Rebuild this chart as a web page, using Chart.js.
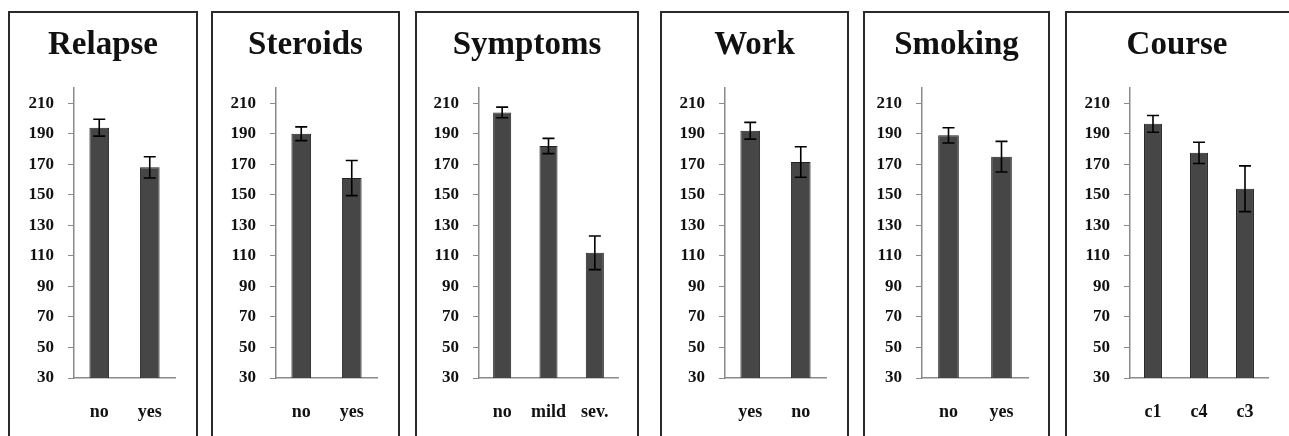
<!DOCTYPE html>
<html>
<head>
<meta charset="utf-8">
<script src="https://cdn.jsdelivr.net/npm/chart.js@4/dist/chart.umd.min.js"></script>
<style>
  html, body { margin: 0; padding: 0; background: #fff; width: 1289px; height: 436px; overflow: hidden; position: relative; }
  .frame { position: absolute; top: 11px; height: 460px; border: 2px solid #2a2a2a; box-sizing: border-box; pointer-events: none; }
  .title { position: absolute; top: 25px; height: 40px; line-height: 40px; text-align: center;
           font: bold 33px "Liberation Serif", "Times New Roman", serif; color: #111; }
  canvas { position: absolute; top: 11px; }
</style>
</head>
<body>
<script>
// chart titles and categories
let titles = ['Relapse', 'Steroids', 'Symptoms', 'Work', 'Smoking', 'Course'];

let relapseLabels = ['no', 'yes'];
let relapseMeans = [194, 168];
let relapseErrors = [5.5, 7];

let steroidsLabels = ['no', 'yes'];
let steroidsMeans = [190, 161];
let steroidsErrors = [4.5, 11.5];

let symptomsLabels = ['no', 'mild', 'sev.'];
let symptomsMeans = [204, 182, 112];
let symptomsErrors = [3.5, 5, 11];

let workLabels = ['yes', 'no'];
let workMeans = [192, 171.5];
let workErrors = [5.5, 10];

let smokingLabels = ['no', 'yes'];
let smokingMeans = [189, 175];
let smokingErrors = [5, 10];

let courseLabels = ['c1', 'c4', 'c3'];
let courseMeans = [196.5, 177.5, 154];
let courseErrors = [5.5, 7, 15];

let yTicks = [30, 50, 70, 90, 110, 130, 150, 170, 190, 210];

const panelData = [
    [relapseLabels, relapseMeans, relapseErrors],
    [steroidsLabels, steroidsMeans, steroidsErrors],
    [symptomsLabels, symptomsMeans, symptomsErrors],
    [workLabels, workMeans, workErrors],
    [smokingLabels, smokingMeans, smokingErrors],
    [courseLabels, courseMeans, courseErrors]
];

// page layout of each panel: frame edges, y axis x, end of x axis
const frames = [
    { left: 8,    right: 198,  axis: 74,   end: 175 },
    { left: 211,  right: 400,  axis: 276,  end: 377 },
    { left: 415,  right: 639,  axis: 479,  end: 618 },
    { left: 660,  right: 849,  axis: 725,  end: 826 },
    { left: 863,  right: 1050, axis: 922,  end: 1028 },
    { left: 1065, right: 1300, axis: 1130, end: 1268 }
];

const canvasHeight = 425;
const plotTop = 77;
const plotBottom = 367;
const serif = '"Liberation Serif", "Times New Roman", serif';

// error bars drawn through the chart's own scales
const errorBars = {
    id: 'errorBars',
    afterDatasetsDraw(chart) {
        const ctx = chart.ctx;
        const meta = chart.getDatasetMeta(0);
        const ds = chart.data.datasets[0];
        const y = chart.scales.y;
        ctx.save();
        ctx.strokeStyle = '#000';
        ctx.lineWidth = 1.6;
        meta.data.forEach((bar, i) => {
            const v = ds.data[i];
            const e = ds.errors[i];
            const top = y.getPixelForValue(v + e);
            const bot = y.getPixelForValue(v - e);
            const x = bar.x;
            ctx.beginPath();
            ctx.moveTo(x, top); ctx.lineTo(x, bot);
            ctx.moveTo(x - 6, top); ctx.lineTo(x + 6, top);
            ctx.moveTo(x - 6, bot); ctx.lineTo(x + 6, bot);
            ctx.stroke();
        });
        ctx.restore();
    }
};

frames.forEach((f, i) => {
    const frame = document.createElement('div');
    frame.className = 'frame';
    frame.style.left = f.left + 'px';
    frame.style.width = (f.right - f.left) + 'px';
    document.body.appendChild(frame);

    const w = Math.min(f.right, 1289) - f.left;

    const title = document.createElement('div');
    title.className = 'title';
    title.style.left = f.left + 'px';
    title.style.width = w + 'px';
    title.textContent = titles[i];
    document.body.appendChild(title);

    const canvas = document.createElement('canvas');
    canvas.width = w;
    canvas.height = canvasHeight;
    canvas.style.left = f.left + 'px';
    canvas.style.width = w + 'px';
    canvas.style.height = canvasHeight + 'px';
    document.body.insertBefore(canvas, frame);

    const [labels, means, errors] = panelData[i];

    new Chart(canvas, {
        type: 'bar',
        data: {
            labels: labels,
            datasets: [{
                data: means,
                errors: errors,
                backgroundColor: '#464646',
                borderColor: '#222',
                borderWidth: 1,
                barPercentage: 0.39,
                categoryPercentage: 1
            }]
        },
        options: {
            responsive: false,
            animation: false,
            layout: { padding: { left: 0, top: plotTop, bottom: 0, right: w - (f.end - f.left) } },
            plugins: {
                legend: { display: false },
                tooltip: { enabled: false },
                title: { display: false }
            },
            scales: {
                x: {
                    grid: { display: false, drawTicks: false },
                    border: { display: true, color: '#8a8a8a', width: 1.5 },
                    ticks: {
                        color: '#111',
                        padding: 24,
                        font: { family: serif, size: 18, weight: 'bold' }
                    },
                    afterFit(scale) { scale.height = canvasHeight - plotBottom; }
                },
                y: {
                    min: 30,
                    max: 220,
                    grid: { display: true, drawOnChartArea: false, drawTicks: true, tickLength: 6, color: '#8a8a8a' },
                    border: { display: true, color: '#8a8a8a', width: 1.5 },
                    ticks: {
                        color: '#111',
                        padding: 14,
                        font: { family: serif, size: 17, weight: 'bold' }
                    },
                    afterBuildTicks(scale) { scale.ticks = yTicks.map(v => ({ value: v })); },
                    afterFit(scale) { scale.width = f.axis - f.left; }
                }
            }
        },
        plugins: [errorBars]
    });
});
</script>
</body>
</html>
